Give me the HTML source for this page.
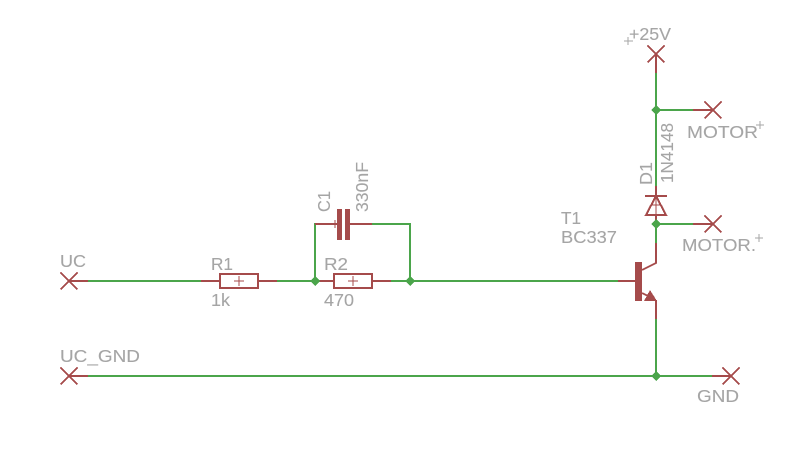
<!DOCTYPE html>
<html>
<head>
<meta charset="utf-8">
<style>
html,body{margin:0;padding:0;background:#fff;width:796px;height:452px;overflow:hidden}
svg{display:block}
text{font-family:"Liberation Sans",sans-serif;font-size:17.500px;fill:#a5a5a5;stroke:#a5a5a5;stroke-width:.1}
.g{stroke:#4ba54b;stroke-width:2;fill:none}
.r{stroke:#a54b4b;stroke-width:2;fill:none}
.t{stroke:#a54b4b;stroke-width:1;fill:none}
.o{stroke:#a5a5a5;stroke-width:1;fill:none}
.j{fill:#4ba54b}
</style>
</head>
<body>
<svg width="796" height="452" viewBox="0 0 796 452" xmlns="http://www.w3.org/2000/svg">
<rect width="796" height="452" fill="#fff"/>
<g shape-rendering="crispEdges">
<path class="g" d="M88 281H201M277 281H315M391 281H618M88 376H712M315 281V224H334M372 224H410V281M656 73V186M656 224V243M656 319V376M656 110H693M656 224H693"/>
<!-- X marks -->
<path class="r" d="M60.500 272.500L77.500 289.500M60.500 289.500L77.500 272.500M60.500 367.500L77.500 384.500M60.500 384.500L77.500 367.500M647.500 45.500L664.500 62.500M647.500 62.500L664.500 45.500M704.500 101.500L721.500 118.500M704.500 118.500L721.500 101.500M704.500 215.500L721.500 232.500M704.500 232.500L721.500 215.500M722.500 367.500L739.500 384.500M722.500 384.500L739.500 367.500"/>
<!-- pins -->
<path class="r" d="M69 281H88M69 376H88M656 54V73M693 110H713M693 224H713M712 376H731M201 281H220M258 281H277M315 281H334M372 281H391M315 224H337M350 224H372M618 281H635M656 186V196M656 215V224M656 243V263L642 270M656 300V319"/>
<!-- resistors -->
<rect class="r" x="220" y="274" width="38" height="14"/>
<rect class="r" x="334" y="274" width="38" height="14"/>
<!-- capacitor -->
<rect x="337" y="209" width="5" height="31" fill="#a54b4b"/>
<rect x="345" y="209" width="5" height="31" fill="#a54b4b"/>
<!-- diode -->
<path class="r" d="M645 196H667M656 196L646 215H666Z"/>
<!-- transistor -->
<rect x="635" y="262" width="7" height="39" fill="#a54b4b"/>
<path class="r" d="M642 293L650 297"/>
<path d="M644 301L650 290L657 301Z" fill="#a54b4b"/>
<!-- origin crosses -->
<path class="t" d="M234 281H244M239 276V286M348 281H358M353 276V286M331 224H339M335 220V228M651 205H661M656 197V215"/>
<path class="o" d="M624 41H633M628 37V45M756 125H764M760 121V129M755 238H763M759 234V242"/>
<!-- junctions -->
<path class="j" d="M315 276L320 281L315 286L310 281ZM410 276L415 281L410 286L405 281ZM656 105L661 110L656 115L651 110ZM656 219L661 224L656 229L651 224ZM656 371L661 376L656 381L651 376Z"/>
</g>
<!-- labels -->
<text x="60" y="267" textLength="26" lengthAdjust="spacingAndGlyphs">UC</text>
<text x="60" y="362" textLength="80" lengthAdjust="spacingAndGlyphs">UC_GND</text>
<text x="211" y="270" textLength="22" lengthAdjust="spacingAndGlyphs">R1</text>
<text x="211" y="306" textLength="19" lengthAdjust="spacingAndGlyphs">1k</text>
<text x="324" y="270" textLength="24" lengthAdjust="spacingAndGlyphs">R2</text>
<text x="324" y="306" textLength="30" lengthAdjust="spacingAndGlyphs">470</text>
<text x="561" y="224" textLength="20" lengthAdjust="spacingAndGlyphs">T1</text>
<text x="561" y="243" textLength="56" lengthAdjust="spacingAndGlyphs">BC337</text>
<text x="629" y="40" textLength="42" lengthAdjust="spacingAndGlyphs">+25V</text>
<text x="687" y="138" textLength="71" lengthAdjust="spacingAndGlyphs">MOTOR</text>
<text x="682" y="251" textLength="74" lengthAdjust="spacingAndGlyphs">MOTOR.</text>
<text x="697" y="402" textLength="42" lengthAdjust="spacingAndGlyphs">GND</text>
<text transform="translate(330 212) rotate(-90)" textLength="21" lengthAdjust="spacingAndGlyphs">C1</text>
<text transform="translate(368 212) rotate(-90)" textLength="50" lengthAdjust="spacingAndGlyphs">330nF</text>
<text transform="translate(652 185) rotate(-90)" textLength="23" lengthAdjust="spacingAndGlyphs">D1</text>
<text transform="translate(673 183) rotate(-90)" textLength="60" lengthAdjust="spacingAndGlyphs">1N4148</text>
</svg>
</body>
</html>
